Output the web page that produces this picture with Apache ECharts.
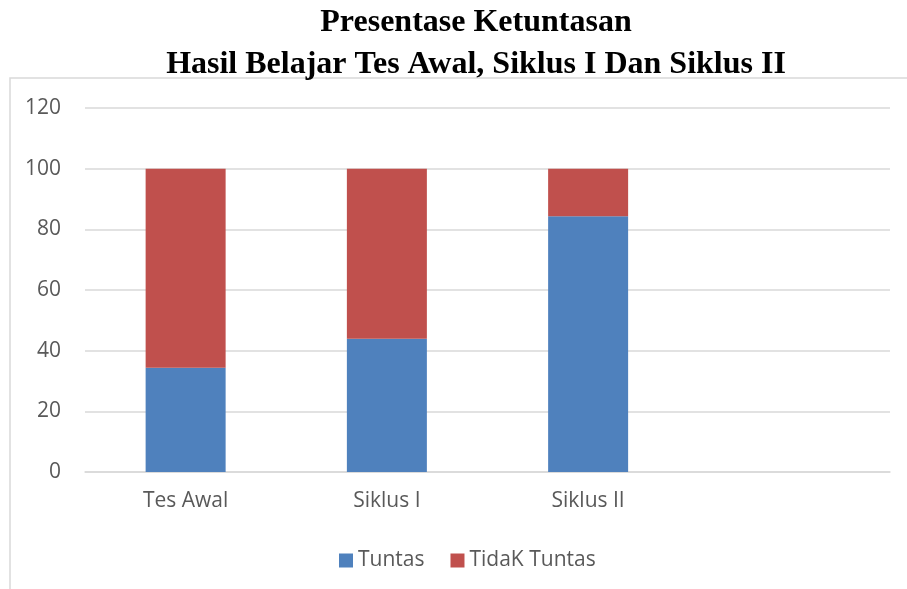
<!DOCTYPE html>
<html>
<head>
<meta charset="utf-8">
<script src="https://cdn.jsdelivr.net/npm/echarts@6/dist/echarts.min.js"></script>
<style>
  html, body { margin: 0; padding: 0; background: #fff; }
  #chart { width: 907px; height: 589px; }
</style>
</head>
<body>
<div id="chart"></div>
<script>
  // data
  const categories = ['Tes Awal', 'Siklus I', 'Siklus II', '']
  const tuntas = [34.4, 43.9, 84.3, null]
  const tidakTuntas = [65.6, 56.1, 15.7, null]
  const seriesNames = ['Tuntas', 'TidaK Tuntas']

  const axisFont = { color: '#595959', fontSize: 21, fontFamily: 'Open Sans' }

  const chart = echarts.init(document.getElementById('chart'))
  chart.setOption({
    animation: false,
    title: {
      text: 'Presentase Ketuntasan\nHasil Belajar Tes Awal, Siklus I Dan Siklus II',
      left: 471,
      textAlign: 'center',
      top: -3,
      textStyle: {
        fontFamily: 'Liberation Serif',
        fontWeight: 'bold',
        fontSize: 32,
        lineHeight: 42,
        color: '#000'
      }
    },
    graphic: [{
      type: 'rect',
      shape: { x: 10, y: 78, width: 920, height: 540 },
      style: { fill: 'none', stroke: '#d9d9d9', lineWidth: 1.5 },
      silent: true
    }],
    grid: { left: 85, right: 17, top: 108, bottom: 117 },
    legend: {
      data: seriesNames,
      left: 334,
      top: 545,
      itemWidth: 14,
      itemHeight: 14,
      itemGap: 26,
      icon: 'rect',
      textStyle: axisFont
    },
    xAxis: {
      type: 'category',
      data: categories,
      axisTick: { show: false },
      axisLine: { lineStyle: { color: '#d9d9d9', width: 1.5 } },
      axisLabel: Object.assign({ margin: 19 }, axisFont)
    },
    yAxis: {
      type: 'value',
      min: 0,
      max: 120,
      interval: 20,
      axisLine: { show: false },
      axisTick: { show: false },
      axisLabel: Object.assign({ margin: 24 }, axisFont),
      splitLine: { lineStyle: { color: '#d9d9d9', width: 1.5 } }
    },
    series: [
      {
        name: seriesNames[0],
        type: 'bar',
        stack: 'total',
        barWidth: 80,
        itemStyle: { color: '#4f81bd' },
        data: tuntas
      },
      {
        name: seriesNames[1],
        type: 'bar',
        stack: 'total',
        barWidth: 80,
        itemStyle: { color: '#c0504d' },
        data: tidakTuntas
      }
    ]
  })
</script>
</body>
</html>
